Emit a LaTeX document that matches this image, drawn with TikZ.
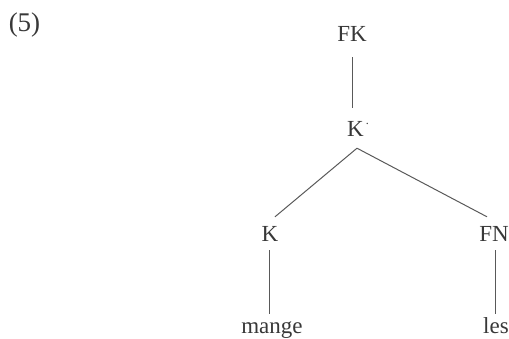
\documentclass[tikz,border=0pt]{standalone}
\usepackage{fontspec}
\setmainfont{Liberation Serif}
\begin{document}
\begin{tikzpicture}[x=1pt,y=-1pt,
  lab/.style={inner sep=0pt, anchor=base, text height=14pt, text depth=4pt,
    font=\fontsize{23}{25}\selectfont, text=black!78},
  edge/.style={draw=black!65, line width=1pt}]
\useasboundingbox (0,0) rectangle (509,338);
\node[inner sep=0pt, anchor=base, font=\fontsize{27}{30}\selectfont, text=black!78] (ex) at (24.5,31) {(5)};
\node[lab] (FK) at (352,41) {FK};
\node[lab] (Kb) at (358,136) {K\kern2pt\raisebox{0.5em}{\fontsize{12}{12}\selectfont.}};
\node[lab] (K) at (270,241) {K};
\node[lab] (FN) at (494,241) {FN};
\node[lab] (mange) at (272,333) {mange};
\node[lab] (les) at (496,333) {les};
\draw[edge] ([xshift=0pt,yshift=-12pt]FK.south) -- ([xshift=-6pt,yshift=14pt]Kb.north);
\draw[edge] ([xshift=-1pt,yshift=-8pt]Kb.south) -- ([xshift=5pt,yshift=10pt]K.north);
\draw[edge] ([xshift=-1pt,yshift=-8pt]Kb.south) -- ([xshift=-7pt,yshift=10pt]FN.north);
\draw[edge] ([xshift=-1pt,yshift=-5pt]K.south) -- ([xshift=-3pt,yshift=5pt]mange.north);
\draw[edge] ([xshift=1pt,yshift=-5pt]FN.south) -- ([xshift=-1pt,yshift=5pt]les.north);
\end{tikzpicture}
\end{document}
